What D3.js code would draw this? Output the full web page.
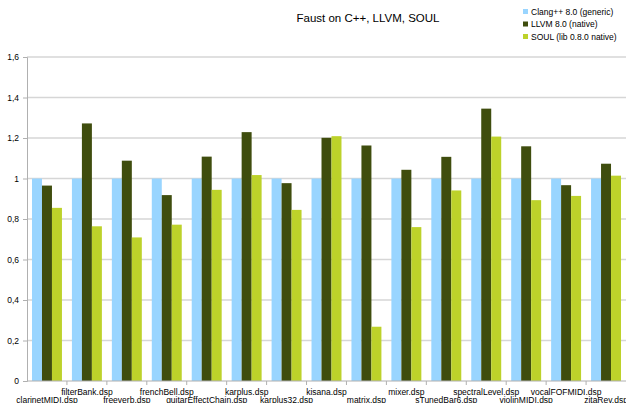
<!DOCTYPE html>
<html>
<head>
<meta charset="utf-8">
<script src="https://cdn.jsdelivr.net/npm/d3@7"></script>
<style>
  body { margin: 0; background: #fff; }
  text { font-family: "Liberation Sans", Arial, sans-serif; fill: #000; }
</style>
</head>
<body>
<svg id="chart"></svg>
<script>
const categories = ["clarinetMIDI.dsp", "filterBank.dsp", "freeverb.dsp", "frenchBell.dsp", "guitarEffectChain.dsp",
  "karplus.dsp", "karplus32.dsp", "kisana.dsp", "matrix.dsp", "mixer.dsp", "sTunedBar6.dsp",
  "spectralLevel.dsp", "violinMIDI.dsp", "vocalFOFMIDI.dsp", "zitaRev.dsp"];
const seriesNames = ["Clang++ 8.0 (generic)", "LLVM 8.0 (native)", "SOUL (lib 0.8.0 native)"];
const clangValues = [1, 1, 1, 1, 1, 1, 1, 1, 1, 1, 1, 1, 1, 1, 1];
const llvmValues = [0.965, 1.272, 1.088, 0.918, 1.108, 1.229, 0.977, 1.201, 1.163, 1.043, 1.107, 1.345, 1.159, 0.967, 1.073];
const soulValues = [0.855, 0.764, 0.709, 0.772, 0.944, 1.017, 0.845, 1.209, 0.268, 0.760, 0.941, 1.207, 0.893, 0.914, 1.014];
const yTicks = [0, 0.2, 0.4, 0.6, 0.8, 1, 1.2, 1.4, 1.6];
const colors = ["#99d5ff", "#3f4d0e", "#bdd22a"];

const W = 626, H = 403;
const margin = { top: 57, right: 0, bottom: 22, left: 27 };
const width = W - margin.left - margin.right;
const height = H - margin.top - margin.bottom;

const svg = d3.select("#chart").attr("width", W).attr("height", H);
const g = svg.append("g").attr("transform", `translate(${margin.left},${margin.top})`);

const x = d3.scaleBand().domain(categories).range([0, width]).paddingInner(0.25).paddingOuter(0.125);
const x1 = d3.scaleBand().domain(seriesNames).range([0, x.bandwidth()]);
const y = d3.scaleLinear().domain([0, 1.6]).range([height, 0]);

// grid lines
g.append("g")
  .selectAll("line")
  .data(yTicks.filter(d => d > 0))
  .enter().append("line")
  .attr("x1", 0).attr("x2", width)
  .attr("y1", d => y(d)).attr("y2", d => y(d))
  .attr("stroke", "#d6d6d6").attr("stroke-width", 1.5);

// y axis
const yAxis = g.append("g")
  .call(d3.axisLeft(y).tickValues(yTicks).tickSize(4).tickPadding(4)
    .tickFormat(d => d3.format("~g")(d).replace(".", ",")));
yAxis.select(".domain").attr("stroke", "#b0b0b0");
yAxis.selectAll(".tick line").attr("stroke", "#b0b0b0");
yAxis.selectAll("text").style("font-size", "8.5px");

// bars
const series = [clangValues, llvmValues, soulValues];
const groups = g.append("g").selectAll("g")
  .data(categories)
  .enter().append("g")
  .attr("transform", d => `translate(${x(d)},0)`);

groups.selectAll("rect")
  .data((c, i) => series.map((vals, s) => ({ name: seriesNames[s], value: vals[i], s })))
  .enter().append("rect")
  .attr("x", d => x1(d.name))
  .attr("width", x1.bandwidth())
  .attr("y", d => y(d.value))
  .attr("height", d => y(0) - y(d.value))
  .attr("fill", d => colors[d.s]);

// x axis
g.append("line")
  .attr("x1", 0).attr("x2", width)
  .attr("y1", height).attr("y2", height)
  .attr("stroke", "#b0b0b0");
const step = x.step();
g.append("g").selectAll("line")
  .data(d3.range(1, categories.length))
  .enter().append("line")
  .attr("x1", i => i * step).attr("x2", i => i * step)
  .attr("y1", height).attr("y2", height + 4)
  .attr("stroke", "#b0b0b0");

g.append("g").selectAll("text")
  .data(categories)
  .enter().append("text")
  .attr("x", d => x(d) + x.bandwidth() / 2)
  .attr("y", (d, i) => height + (i % 2 === 0 ? 22 : 14))
  .attr("text-anchor", "middle")
  .style("font-size", "8.5px")
  .text(d => d);

// title
svg.append("text")
  .attr("x", 368).attr("y", 22)
  .attr("text-anchor", "middle")
  .style("font-size", "11.5px")
  .text("Faust on C++, LLVM, SOUL");

// legend
const legend = svg.append("g").attr("transform", "translate(523,12)");
const item = legend.selectAll("g")
  .data(seriesNames)
  .enter().append("g")
  .attr("transform", (d, i) => `translate(0,${i * 12.5})`);
item.append("rect")
  .attr("x", 0).attr("y", -3).attr("width", 5).attr("height", 5)
  .attr("fill", (d, i) => colors[i]);
item.append("text")
  .attr("x", 8).attr("y", 0).attr("dy", "0.35em")
  .style("font-size", "8.5px")
  .text(d => d);
</script>
</body>
</html>
